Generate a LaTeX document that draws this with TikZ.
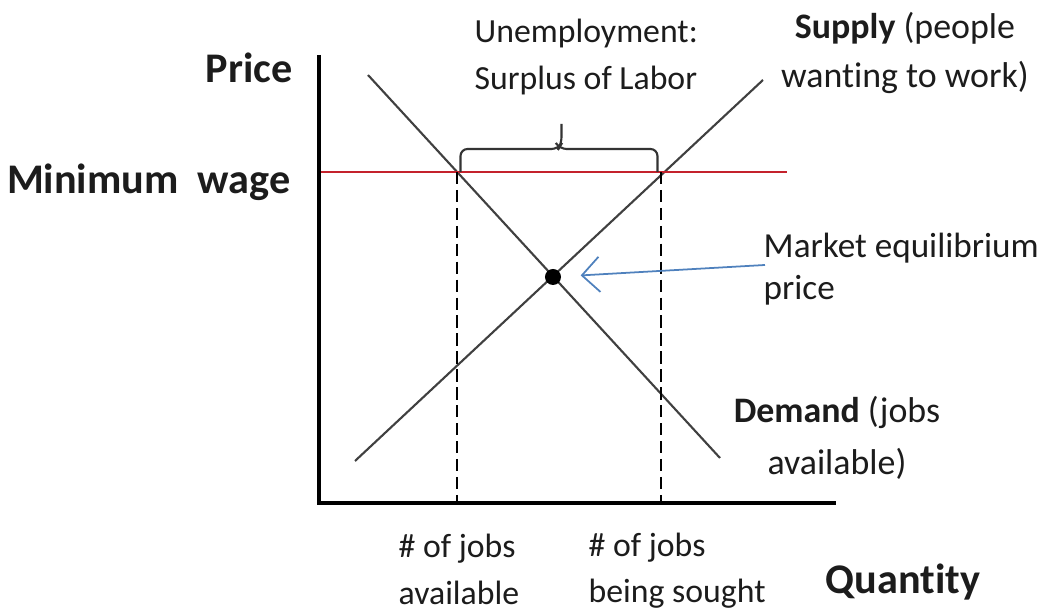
\documentclass[tikz,border=0pt]{standalone}
\usepackage{fontspec}
\setmainfont[Ligatures=NoCommon]{Carlito}
\usetikzlibrary{arrows.meta}

\definecolor{wagered}{RGB}{196,34,44}
\definecolor{arrowblue}{RGB}{79,129,189}
\definecolor{inkgray}{RGB}{28,28,28}

\begin{document}
\begin{tikzpicture}[x=0.01cm, y=-0.01cm]
      \tikzstyle{axislabel} = [
        font = \fontsize{12}{14}\selectfont\bfseries,
        text = inkgray,
        inner sep = 0pt
      ]

      \tikzstyle{note} = [
        font = \fontsize{10.2}{14.2}\selectfont,
        text = inkgray,
        inner sep = 0pt
      ]

      \tikzstyle{curve} = [
        line width = 0.6pt,
        black!75
      ]

      \tikzstyle{guide} = [
        line width = 0.6pt,
        dash pattern = on 3.5pt off 1.6pt
      ]

      \tikzstyle{bracket} = [
        line width = 0.6pt,
        black!80,
        rounded corners = 2pt
      ]

      \useasboundingbox (0,0) rectangle (1044,613);

      % axes
      \coordinate (origin) at (319,503);
      \coordinate (ytop) at (319,55);
      \coordinate (xend) at (836,503);

      % demand and supply lines
      \coordinate (d1) at (368,75);
      \coordinate (d2) at (720,458);
      \coordinate (s1) at (355,461);
      \coordinate (s2) at (763,80);

      % minimum wage and the two quantities under it
      \coordinate (wl) at (319,172);
      \coordinate (wr) at (787,172);
      \coordinate (qd) at (457,172);
      \coordinate (qs) at (661,172);
      \coordinate (qdb) at (457,503);
      \coordinate (qsb) at (661,503);

      % (base anchor of a two-line node = baseline of its last line)
      \node[axislabel, anchor=base east] (price) at (293,83) {Price};
      \node[axislabel, anchor=base east] (minwage) at (291,194) {Minimum\ \ wage};
      \node[axislabel, anchor=base west] (quantity) at (825,594) {Quantity};

      \node[note, font=\fontsize{9.6}{13.6}\selectfont, align=left, anchor=base west]
        (surplus) at (474,90) {Unemployment:\\Surplus of Labor};
      \node[note, align=center, anchor=base] (supplylbl) at (905,88)
        {\textbf{Supply} (people\\wanting to work)};
      \node[note, font=\fontsize{10}{12.2}\selectfont, align=left, anchor=base west]
        (mkt) at (763,300) {Market equilibrium\\price};
      \node[note, font=\fontsize{10.2}{14.8}\selectfont, align=center, anchor=base]
        (demandlbl) at (837,475) {\textbf{Demand} (jobs\\available)};
      \node[note, font=\fontsize{9.6}{13.4}\selectfont, align=left, anchor=base west]
        (jobsavail) at (398,605) {\# of jobs\\available};
      \node[note, font=\fontsize{9.6}{13.2}\selectfont, align=left, anchor=base west]
        (jobssought) at (588,603) {\# of jobs\\being sought};

      \draw[curve] (d1) -- (d2);
      \draw[curve] (s1) -- (s2);
      \draw[wagered, line width=0.5pt] (wl) -- (wr);
      \draw[guide] (qd) -- (qdb);
      \draw[guide] (qs) -- (qsb);
      \draw[line width=1.2pt] (ytop) -- (origin) -- (xend);

      % flat bracket over the surplus, two halves meeting at the tip
      \draw[bracket] ([xshift=1pt]qd) -- ++(0,-23) -- ++(98,0) -- ++(3,-5) -- ++(0,-20);
      \draw[bracket] ([xshift=-1pt]qs) -- ++(0,-23) -- ++(-98,0) -- ++(-3,-5);

      % equilibrium point on top of the two lines
      \node[circle, fill=black, inner sep=0pt, minimum size=0.16cm] (eq) at (553,277) {};
      \coordinate (mkttail) at (765,265);
      \draw[arrowblue, line width=0.5pt, shorten >=0.19cm,
        -{Straight Barb[length=5pt, width=10pt]}] (mkttail) -- (eq);
    \end{tikzpicture}
\end{document}
